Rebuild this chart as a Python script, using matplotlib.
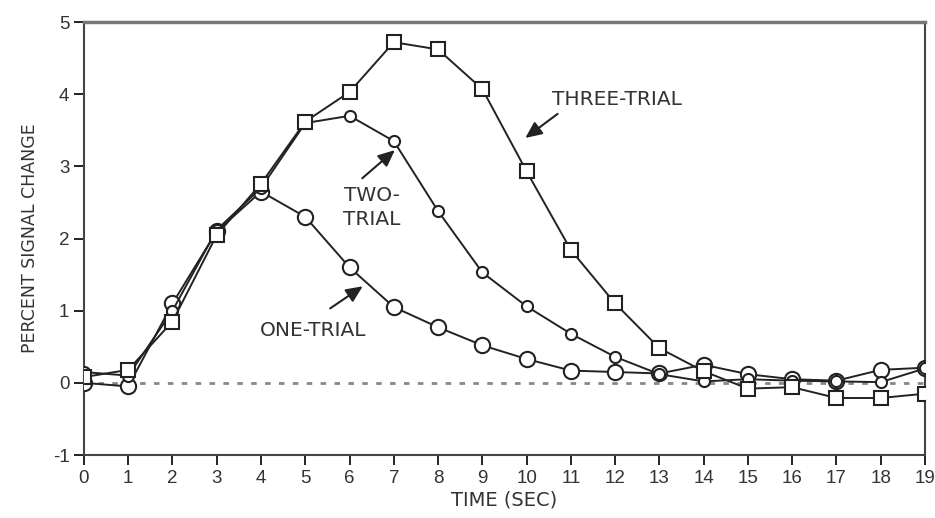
import matplotlib
matplotlib.use("Agg")
import matplotlib.pyplot as plt

plt.rcParams['font.family'] = ['Liberation Sans', 'DejaVu Sans']
plt.rcParams['axes.unicode_minus'] = False

time_sec = list(range(20))
one_trial = [0.00, -0.05, 1.10, 2.10, 2.65, 2.30, 1.60, 1.05, 0.77, 0.52,
             0.33, 0.17, 0.15, 0.13, 0.25, 0.12, 0.05, 0.03, 0.18, 0.21]
two_trial = [0.15, 0.10, 1.00, 2.12, 2.70, 3.60, 3.70, 3.35, 2.38, 1.53,
             1.06, 0.68, 0.36, 0.12, 0.02, 0.05, 0.03, 0.02, 0.01, 0.20]
three_trial = [0.08, 0.18, 0.85, 2.05, 2.76, 3.62, 4.03, 4.72, 4.62, 4.07,
               2.93, 1.84, 1.10, 0.48, 0.16, -0.08, -0.06, -0.21, -0.21, -0.15]
x_ticks = list(range(20))
y_ticks = [-1, 0, 1, 2, 3, 4, 5]

ink = '#222222'
grey_text = '#333333'
fig = plt.figure(figsize=(9.35, 5.18), dpi=100)
ax = fig.add_axes([0.0898, 0.1216, 0.8995, 0.8359])

ax.plot(time_sec, [0] * len(time_sec), color='#888888', lw=2,
        linestyle=(0, (2, 3)), zorder=1)

ax.plot(time_sec, one_trial, color=ink, lw=1.4, marker='o', ms=11,
        mfc='white', mec=ink, mew=1.5, zorder=3)
ax.plot(time_sec, two_trial, color=ink, lw=1.4, marker='o', ms=8,
        mfc='white', mec=ink, mew=1.5, zorder=4)
ax.plot(time_sec, three_trial, color=ink, lw=1.4, marker='s', ms=10,
        mfc='white', mec=ink, mew=1.5, zorder=5)

ax.set_xlim(0, 19)
ax.set_ylim(-1, 5)
ax.set_xticks(x_ticks)
ax.set_yticks(y_ticks)
ax.tick_params(direction='out', length=7, width=1.4, colors=ink,
               labelsize=13.5, labelcolor=grey_text)
for s in ax.spines.values():
    s.set_color('#444444')
    s.set_linewidth(1.5)
ax.spines['top'].set_linewidth(2.5)
ax.spines['top'].set_color('#777777')

label_font = ['DejaVu Sans']
ax.set_xlabel('TIME (SEC)', fontsize=14, color=grey_text, labelpad=3,
              family=label_font)
ax.set_ylabel('PERCENT SIGNAL CHANGE', fontsize=12.5, color=grey_text,
              labelpad=10, family=label_font)

arrow = dict(arrowstyle='-|>,head_length=1.0,head_width=0.45', color=ink, lw=1.5)
txt = dict(fontsize=14.5, color=grey_text, family=label_font)
ax.annotate('', xy=(9.92, 3.37), xytext=(10.75, 3.75), arrowprops=arrow)
ax.text(12.04, 3.92, 'THREE-TRIAL', ha='center', va='center', **txt)
ax.annotate('', xy=(7.07, 3.25), xytext=(6.24, 2.81), arrowprops=arrow)
ax.text(6.5, 2.43, 'TWO-\nTRIAL', ha='center', va='center',
        linespacing=1.3, **txt)
ax.annotate('', xy=(6.35, 1.36), xytext=(5.51, 1.01), arrowprops=arrow)
ax.text(5.17, 0.73, 'ONE-TRIAL', ha='center', va='center', **txt)

fig.savefig('out.png', dpi=100)
